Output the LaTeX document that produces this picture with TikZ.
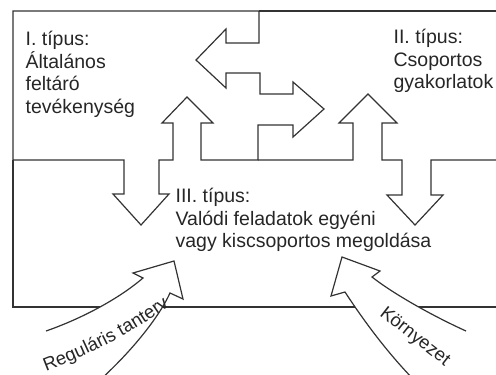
\documentclass[tikz,border=0pt]{standalone}
\usepackage{fontspec}
\setmainfont{Liberation Sans}
\usetikzlibrary{decorations.text}

\begin{document}
\begin{tikzpicture}[
  x=1pt, y=-1pt,
  line width=1.2pt, line join=miter,
  outline/.style={draw=black!80},
  inarrow/.style={outline, fill=white},
  typelab/.style={align=left, anchor=north west, inner sep=0pt, text=black!85,
                  font=\fontsize{19.5}{22.5}\selectfont},
  bendlab/.style={decorate, decoration={text along path, text align=left,
                  text color=black!85,
                  text={|\fontsize{18.5}{22}\selectfont|#1}}}
]
\useasboundingbox (0,0) rectangle (496,375);
\clip (0,0) rectangle (496,375);
% ----- type I area, with the arrows it sends out -----
\draw[outline] (259,11) -- (13,11) -- (13,160) -- (124,160) -- (124,194) -- (113,194)
  -- (141,225) -- (169,194) -- (159,194) -- (159,160) -- (173,160) -- (173,123)
  -- (162,123) -- (187,97) -- (213,123) -- (201,123) -- (201,160) -- (258,160)
  -- (258,125) -- (293,125) -- (293,137) -- (324,109) -- (293,82) -- (293,94)
  -- (260,94) -- (260,73) -- (226,73) -- (226,88) -- (196,60) -- (226,29)
  -- (226,43) -- (259,43) -- cycle;
% ----- type II area -----
\draw[outline] (259,11) -- (500,11);
\draw[outline] (500,160) -- (431,160) -- (431,195) -- (443,195) -- (415,225)
  -- (387,195) -- (402,195) -- (402,160) -- (382,160) -- (382,123) -- (397,123)
  -- (368,94) -- (339,123) -- (353,123) -- (353,160) -- (258,160);
% ----- type III area -----
\draw[outline] (13,160) -- (13,307) -- (500,307);
% ----- inputs from below -----
\draw[inarrow] (46,331) .. controls (75,321) and (115,302) .. (143,278) -- (133,273)
  -- (174,261) -- (183,299) -- (170,293) .. controls (160,315) and (135,348) .. (100,380);
\draw[inarrow] (466,331) .. controls (435,317) and (395,295) .. (372,277) -- (380,271)
  -- (342,257) -- (331,296) -- (345,292) .. controls (362,318) and (385,350) .. (414,380);
\path[bendlab={Reguláris tanterv}] (46,371) .. controls (90,354) and (135,333) .. (180,298);
\path[bendlab={Környezet}] (379,315) -- (465,382);
% ----- labels -----
\node[typelab] (typeI) at (25,31) {I. típus:\\Általános\\feltáró\\tevékenység};
\node[typelab] (typeII) at (393,29) {II. típus:\\Csoportos\\gyakorlatok};
\node[typelab] (typeIII) at (175,188) {III. típus:\\Valódi feladatok egyéni\\vagy kiscsoportos megoldása};
\end{tikzpicture}
\end{document}
